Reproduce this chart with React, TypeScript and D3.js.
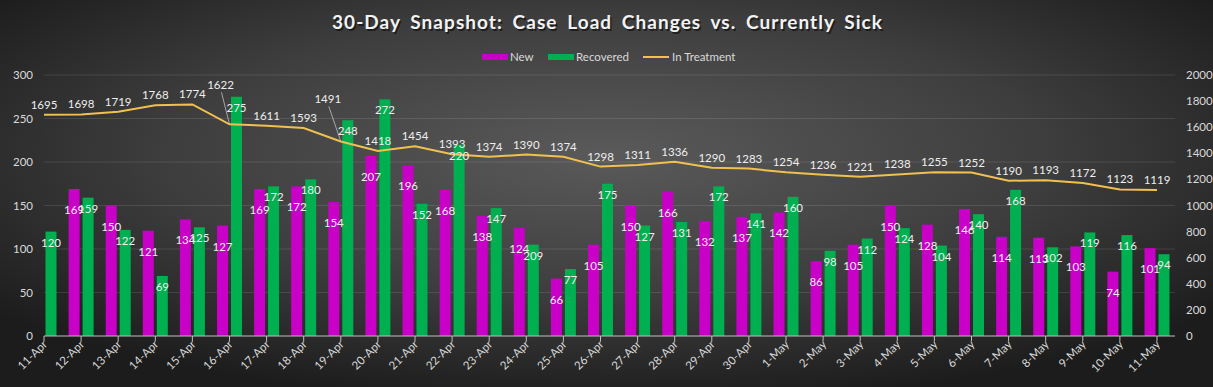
import React from 'react'
import * as d3 from 'd3'

const days = [
  '11-Apr', '12-Apr', '13-Apr', '14-Apr', '15-Apr', '16-Apr', '17-Apr', '18-Apr', '19-Apr', '20-Apr',
  '21-Apr', '22-Apr', '23-Apr', '24-Apr', '25-Apr', '26-Apr', '27-Apr', '28-Apr', '29-Apr', '30-Apr',
  '1-May', '2-May', '3-May', '4-May', '5-May', '6-May', '7-May', '8-May', '9-May', '10-May', '11-May',
]
const newCases = [
  null, 169, 150, 121, 134, 127, 169, 172, 154, 207,
  196, 168, 138, 124, 66, 105, 150, 166, 132, 137,
  142, 86, 105, 150, 128, 146, 114, 113, 103, 74, 101,
]
const recovered = [
  120, 159, 122, 69, 125, 275, 172, 180, 248, 272,
  152, 220, 147, 105, 77, 175, 127, 131, 172, 141,
  160, 98, 112, 124, 104, 140, 168, 102, 119, 116, 94,
]
// the source chart shows "209" over the 24-Apr recovered bar
const recoveredLabelText: Record<number, string> = { 13: '209' }
const inTreatment = [
  1695, 1698, 1719, 1768, 1774, 1622, 1611, 1593, 1491, 1418,
  1454, 1393, 1374, 1390, 1374, 1298, 1311, 1336, 1290, 1283,
  1254, 1236, 1221, 1238, 1255, 1252, 1190, 1193, 1172, 1123, 1119,
]
const leftTicks = [0, 50, 100, 150, 200, 250, 300]
const rightTicks = [0, 200, 400, 600, 800, 1000, 1200, 1400, 1600, 1800, 2000]

const W = 1213
const H = 387
const MAGENTA = '#c800c8'
const GREEN = '#00b050'
const GOLD = '#f0c050'
const TXT = '#d9d9d9'
const FONT = 'Lato, "Open Sans", sans-serif'

// labels that were dragged away from their point (with leader lines)
const movedLineLabels: Record<number, [number, number]> = { 5: [-9, -39], 8: [-13, -42] }

const App = () => {
  const x0 = 44
  const xEnd = 1175
  const step = 37.1
  const x = d3.scaleLinear().domain([0, days.length - 1]).range([x0, x0 + step * (days.length - 1)])
  const yL = d3.scaleLinear().domain([0, 300]).range([336, 75])
  const yR = d3.scaleLinear().domain([0, 2000]).range([336, 75])
  const barW = 11
  const gap = 1.5

  const line = d3
    .line<number>()
    .x((_, i) => x(i))
    .y(d => yR(d))

  return (
    <svg width={W} height={H} style={{ position: 'absolute', left: 0, top: 0 }} fontFamily={FONT}>
      <defs>
        <radialGradient id="bg" cx="50%" cy="40%" r="65%">
          <stop offset="0%" stopColor="#5a5a5a" />
          <stop offset="55%" stopColor="#3e3e3e" />
          <stop offset="100%" stopColor="#1c1c1c" />
        </radialGradient>
        <clipPath id="plot">
          <rect x={x0} y={0} width={xEnd - x0} height={336} />
        </clipPath>
      </defs>
      <rect width={W} height={H} fill="url(#bg)" />

      {/* title */}
      <text x={607} y={29} textAnchor="middle" fontSize={19} fontWeight="bold" fill="#111"
        textLength={550} lengthAdjust="spacing" opacity={0.7} transform="translate(1.5,1.5)" wordSpacing={4}>
        30-Day Snapshot:  Case Load Changes vs. Currently Sick
      </text>
      <text x={607} y={29} textAnchor="middle" fontSize={19} fontWeight="bold" fill="#f2f2f2"
        textLength={550} lengthAdjust="spacing" wordSpacing={4}>
        30-Day Snapshot:  Case Load Changes vs. Currently Sick
      </text>

      {/* legend */}
      <g fontSize={11.5} fill={TXT}>
        <rect x={482} y={54} width={26} height={6} fill={MAGENTA} />
        <text x={510} y={61}>New</text>
        <rect x={548} y={54} width={26} height={6} fill={GREEN} />
        <text x={576} y={61}>Recovered</text>
        <line x1={643} x2={669} y1={57} y2={57} stroke={GOLD} strokeWidth={2} />
        <text x={672} y={61}>In Treatment</text>
      </g>

      {/* gridlines */}
      {leftTicks.slice(1).map(t => (
        <line key={t} x1={x0} x2={xEnd} y1={yL(t)} y2={yL(t)} stroke="#ffffff" strokeOpacity={0.11} />
      ))}

      {/* axes labels */}
      <g fontSize={11.5} fill={TXT}>
        {leftTicks.map(t => (
          <text key={t} x={33} y={yL(t) + 4} textAnchor="end">{t}</text>
        ))}
        {rightTicks.map(t => (
          <text key={t} x={1186} y={yR(t) + 4}>{t}</text>
        ))}
      </g>

      {/* bars */}
      <g clipPath="url(#plot)">
        {newCases.map((v, i) =>
          v == null ? null : (
            <rect key={'n' + i} x={x(i) - gap - barW} y={yL(v)} width={barW} height={yL(0) - yL(v)} fill={MAGENTA} />
          )
        )}
        {recovered.map((v, i) => (
          <rect key={'r' + i} x={x(i) + gap} y={yL(v)} width={barW} height={yL(0) - yL(v)} fill={GREEN} />
        ))}
      </g>

      {/* x axis */}
      <line x1={x0} x2={xEnd} y1={336} y2={336} stroke="#bfbfbf" />
      {days.map((d, i) => (
        <g key={d}>
          <line x1={x(i)} x2={x(i)} y1={336} y2={341} stroke="#bfbfbf" />
          <text transform={`translate(${x(i) + 4},${345}) rotate(-45)`} textAnchor="end" fontSize={11.5} fill={TXT}>
            {d}
          </text>
        </g>
      ))}

      {/* line */}
      <path d={line(inTreatment) || ''} fill="none" stroke={GOLD} strokeWidth={2} />

      {/* bar labels */}
      <g fontSize={11.5} fill="#eeeeee" textAnchor="middle">
        {newCases.map((v, i) =>
          v == null ? null : (
            <text key={'nl' + i} x={x(i) - gap - barW / 2} y={yL(v) + 25}>{v}</text>
          )
        )}
        {recovered.map((v, i) => (
          <text key={'rl' + i} x={x(i) + gap + barW / 2} y={yL(v) + 15}>
            {recoveredLabelText[i] ?? v}
          </text>
        ))}
      </g>

      {/* line labels */}
      <g fontSize={11.5} fill="#eeeeee" textAnchor="middle">
        {inTreatment.map((v, i) => {
          const px = x(i)
          const py = yR(v)
          const mv = movedLineLabels[i]
          if (mv) {
            const lx = px + mv[0]
            const ly = py + mv[1]
            return (
              <g key={'tl' + i}>
                <line x1={lx + 1} y1={ly + 7} x2={px} y2={py} stroke="#bfbfbf" strokeWidth={0.8} />
                <text x={lx} y={ly + 4}>{v}</text>
              </g>
            )
          }
          return <text key={'tl' + i} x={px} y={py - 6}>{v}</text>
        })}
      </g>
    </svg>
  )
}

export default App
